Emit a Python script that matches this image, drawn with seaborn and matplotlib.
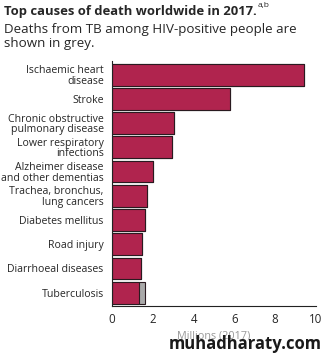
import numpy as np
import pandas as pd
import matplotlib
matplotlib.use('Agg')
import matplotlib.pyplot as plt
import seaborn as sns

causes = ['Ischaemic heart\ndisease', 'Stroke', 'Chronic obstructive\npulmonary disease',
          'Lower respiratory\ninfections', 'Alzheimer disease\nand other dementias',
          'Trachea, bronchus,\nlung cancers', 'Diabetes mellitus', 'Road injury',
          'Diarrhoeal diseases', 'Tuberculosis']
deaths = [9.4, 5.8, 3.05, 2.95, 2.0, 1.7, 1.6, 1.45, 1.4, 1.32]
hiv_tb = [0, 0, 0, 0, 0, 0, 0, 0, 0, 0.31]
xticks = [0, 2, 4, 6, 8, 10]

df = pd.DataFrame({'cause': causes, 'deaths': deaths, 'hiv_tb': hiv_tb})
df['total'] = df['deaths'] + df['hiv_tb']

sns.set_style('white')
plt.rcParams['font.family'] = ['Open Sans', 'DejaVu Sans']

fig = plt.figure(figsize=(3.27, 3.57), dpi=100)
ax = fig.add_axes([0.3425, 0.143, 0.624, 0.685])

sns.barplot(data=df, y='cause', x='total', color='#A9A9A9', saturation=1,
            edgecolor='#2a1a20', linewidth=0.8, width=0.9, ax=ax, orient='h')
sns.barplot(data=df, y='cause', x='deaths', color='#B0244E', saturation=1,
            edgecolor='#2a1a20', linewidth=0.8, width=0.9, ax=ax, orient='h')

ax.set_xlim(0, 10)
ax.set_ylim(9.55, -0.55)
ax.set_xticks(xticks)
ax.set_xticklabels([str(t) for t in xticks], fontsize=8.3)
ax.tick_params(axis='x', length=4, width=0.8, color='#222222', pad=1)
ax.tick_params(axis='y', length=0, pad=6, labelsize=7.6)
for lbl in ax.get_yticklabels():
    lbl.set_horizontalalignment('right')
    lbl.set_multialignment('right')
    lbl.set_linespacing(0.95)
ax.set_ylabel('')
ax.set_xlabel('Millions (2017)', fontsize=7.8, color='#999999', labelpad=3)
for s in ['top', 'right']:
    ax.spines[s].set_visible(False)
ax.spines['left'].set_color('#222222')
ax.spines['bottom'].set_color('#222222')
ax.spines['left'].set_linewidth(0.8)
ax.spines['bottom'].set_linewidth(0.8)

fig.text(0.012, 0.985, 'Top causes of death worldwide in 2017.', fontsize=9.4,
         fontweight='bold', va='top', ha='left')
fig.text(0.788, 0.993, 'a,b', fontsize=6, va='top', ha='left')
fig.text(0.012, 0.935, 'Deaths from TB among HIV-positive people are\nshown in grey.',
         fontsize=9.6, va='top', ha='left', linespacing=1.1)

fig.text(0.985, 0.036, 'muhadharaty.com', fontsize=12, fontweight='bold',
         color='#1a1a1a', ha='right', va='center')

fig.savefig('out.png', dpi=100)
